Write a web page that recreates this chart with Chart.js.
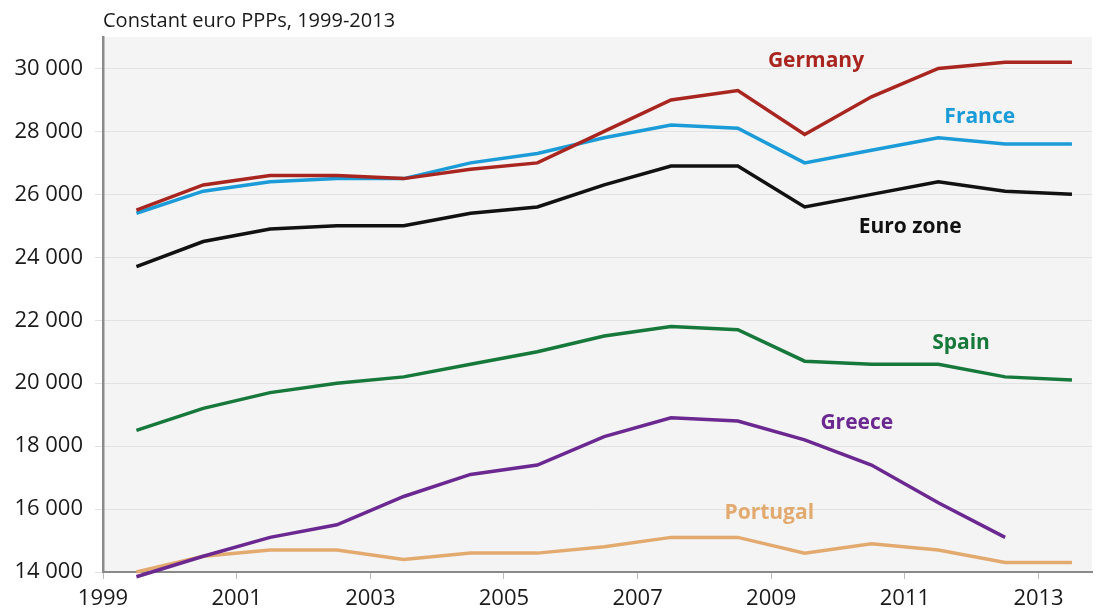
<!DOCTYPE html>
<html lang="en">
<head>
    <meta charset="UTF-8" />
    <script src="https://cdn.jsdelivr.net/npm/chart.js"></script>
    <title>GDP per capita</title>
    <style>
        html, body { margin: 0; padding: 0; background: #fff; }
    </style>
</head>
<body>
    <canvas id="myChart" width="1100" height="615"></canvas>
<script>

// data points sit at mid-year
var anos = [1999.5, 2000.5, 2001.5, 2002.5, 2003.5, 2004.5, 2005.5, 2006.5, 2007.5, 2008.5, 2009.5, 2010.5, 2011.5, 2012.5, 2013.5];
var anosTicks = [1999, 2001, 2003, 2005, 2007, 2009, 2011, 2013];
var valoresTicks = [14000, 16000, 18000, 20000, 22000, 24000, 26000, 28000, 30000];

var germany  = [25500, 26300, 26600, 26600, 26500, 26800, 27000, 28000, 29000, 29300, 27900, 29100, 30000, 30200, 30200];
var france   = [25400, 26100, 26400, 26500, 26500, 27000, 27300, 27800, 28200, 28100, 27000, 27400, 27800, 27600, 27600];
var eurozone = [23700, 24500, 24900, 25000, 25000, 25400, 25600, 26300, 26900, 26900, 25600, 26000, 26400, 26100, 26000];
var spain    = [18500, 19200, 19700, 20000, 20200, 20600, 21000, 21500, 21800, 21700, 20700, 20600, 20600, 20200, 20100];
var greece   = [13850, 14500, 15100, 15500, 16400, 17100, 17400, 18300, 18900, 18800, 18200, 17400, 16200, 15100, null];
var portugal = [14000, 14500, 14700, 14700, 14400, 14600, 14600, 14800, 15100, 15100, 14600, 14900, 14700, 14300, 14300];

// lx/ly = where the name sits, in data units
var series = [
    { nome: "Germany",   dados: germany,  cor: "#a8261f", lx: 2009.67, ly: 30240 },
    { nome: "France",    dados: france,   cor: "#1b9bd7", lx: 2012.12, ly: 28460 },
    { nome: "Euro zone", dados: eurozone, cor: "#111111", lx: 2011.08, ly: 24960 },
    { nome: "Spain",     dados: spain,    cor: "#16783a", lx: 2011.84, ly: 21280 },
    { nome: "Greece",    dados: greece,   cor: "#6b2890", lx: 2010.28, ly: 18740 },
    { nome: "Portugal",  dados: portugal, cor: "#e3aa6f", lx: 2008.97, ly: 15870 }
];

var fonte = "'Open Sans', 'Noto Sans', sans-serif";

function fmt(v) {
    return String(v).replace(/\B(?=(\d{3})+(?!\d))/g, " ");
}

var fundoPlugin = {
    id: "fundo",
    beforeDraw: function (chart) {
        var c = chart.ctx, a = chart.chartArea;
        c.save();
        c.fillStyle = "#f4f4f4";
        c.fillRect(a.left, a.top, a.right - a.left, a.bottom - a.top);
        c.restore();
    },
    afterDraw: function (chart) {
        var c = chart.ctx;
        var sx = chart.scales.x, sy = chart.scales.y;
        c.save();
        c.fillStyle = "#1a1a1a";
        c.font = "20px " + fonte;
        c.textBaseline = "alphabetic";
        c.textAlign = "left";
        c.fillText("Constant euro PPPs, 1999-2013", 103, 27);
        c.font = "bold 21px " + fonte;
        c.textAlign = "center";
        c.textBaseline = "middle";
        series.forEach(function (s) {
            c.fillStyle = s.cor;
            c.fillText(s.nome, sx.getPixelForValue(s.lx), sy.getPixelForValue(s.ly));
        });
        c.restore();
    }
};

var ctx = document.getElementById("myChart");

var chart = new Chart(ctx, {
    type: "line",
    data: {
        datasets: series.map(function (s) {
            return {
                label: s.nome,
                data: s.dados.map(function (v, i) { return { x: anos[i], y: v }; }),
                borderColor: s.cor,
                backgroundColor: s.cor,
                borderWidth: 3.5,
                pointRadius: 0,
                tension: 0,
                clip: false
            };
        })
    },
    options: {
        responsive: false,
        animation: false,
        layout: { padding: { top: 37, right: 8, left: 0, bottom: 0 } },
        plugins: {
            legend: { display: false },
            tooltip: { enabled: false }
        },
        scales: {
            x: {
                type: "linear",
                min: 1999,
                max: 2013.8,
                afterBuildTicks: function (s) {
                    s.ticks = anosTicks.map(function (v) { return { value: v }; });
                },
                afterFit: function (s) { s.height = 43; },
                border: { color: "#8a8a8a", width: 2 },
                grid: { drawOnChartArea: false, drawTicks: true, tickLength: 7, color: "#bbbbbb" },
                ticks: {
                    color: "#1a1a1a",
                    font: { family: fonte, size: 22 },
                    padding: 7,
                    maxRotation: 0,
                    callback: function (v) { return String(v); }
                }
            },
            y: {
                min: 14000,
                max: 31000,
                afterBuildTicks: function (s) {
                    s.ticks = valoresTicks.map(function (v) { return { value: v }; });
                },
                afterFit: function (s) { s.width = 103; },
                border: { color: "#8a8a8a", width: 2.5 },
                grid: { color: "#e2e2e2", lineWidth: 1, tickLength: 8 },
                ticks: {
                    color: "#1a1a1a",
                    font: { family: fonte, size: 22 },
                    padding: 12,
                    callback: function (v) { return fmt(v); }
                }
            }
        }
    },
    plugins: [fundoPlugin]
});
</script>
</body>
</html>
